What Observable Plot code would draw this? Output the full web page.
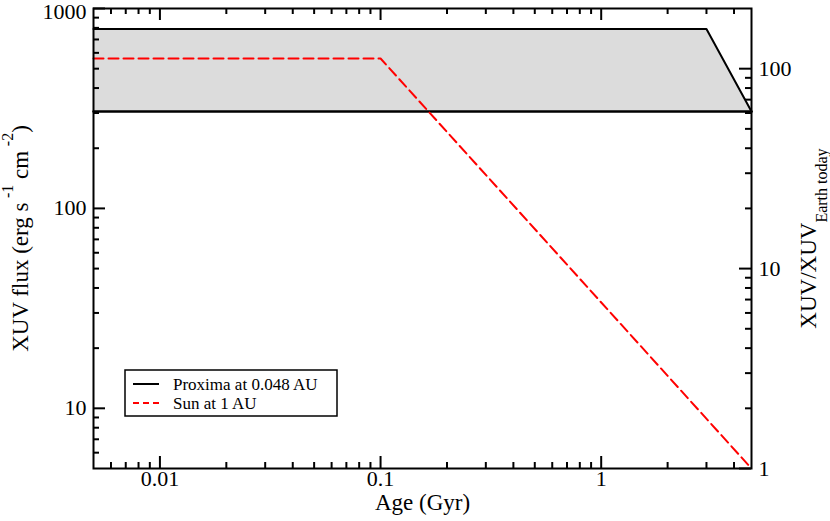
<!DOCTYPE html>
<html><head><meta charset="utf-8">
<script src="https://cdn.jsdelivr.net/npm/d3@7"></script>
<script src="https://cdn.jsdelivr.net/npm/@observablehq/plot@0.6"></script>
<style>html,body{margin:0;padding:0;background:#fff;} svg{display:block;}</style>
</head><body><div id="chart"></div>
<script>
// ---- data ----
const proximaAge = [0.005, 3, 4.8];
const proximaUpper = [790, 790, 305];
const proximaLower = [305, 305, 305];
const sunAge = [0.005, 0.1, 4.8];
const sunFlux = [562, 562, 5];
const seriesNames = ["Proxima at 0.048 AU", "Sun at 1 AU"];
const seriesColors = ["#000000", "#ff0000"];

const xMajorTicks = [0.01, 0.1, 1];
const xTickLabels = ["0.01", "0.1", "1"];
const xMinorTicks = [0.006, 0.007, 0.008, 0.009, 0.02, 0.03, 0.04, 0.05, 0.06, 0.07, 0.08, 0.09, 0.2, 0.3, 0.4, 0.5, 0.6, 0.7, 0.8, 0.9, 2, 3, 4];
const yMajorTicks = [10, 100, 1000];
const yTickLabels = ["10", "100", "1000"];
const yMinorTicks = [6, 7, 8, 9, 20, 30, 40, 50, 60, 70, 80, 90, 200, 300, 400, 500, 600, 700, 800, 900];
const rMajorTicks = [1, 10, 100];
const rTickLabels = ["1", "10", "100"];
const rMinorTicks = [2, 3, 4, 5, 6, 7, 8, 9, 20, 30, 40, 50, 60, 70, 80, 90];
const earthTodayFlux = 5; // left-axis flux equal to 1 on the right axis

const xTitle = "Age (Gyr)";
const yTitle = "XUV flux (erg s\u2009^{-1} cm\u2009^{-2})";
const rTitle = "XUV/XUV_{Earth today}";

// ---- layout ----
const W = 830, H = 521, mL = 93, mR = 79, mT = 8, mB = 53;
const innerW = W - mL - mR, innerH = H - mT - mB;
const font = "Liberation Serif";
const MAJ = 12, MIN = 6, TW = 2;

const proxima = proximaAge.map((a, i) => ({age: a, upper: proximaUpper[i], lower: proximaLower[i]}));
const sun = sunAge.map((a, i) => ({age: a, flux: sunFlux[i]}));
const yTop = yMajorTicks[yMajorTicks.length - 1];

const plot = Plot.plot({
  width: W, height: H,
  marginLeft: mL, marginRight: mR, marginTop: mT, marginBottom: mB,
  x: {type: "log", domain: [0.005, 4.8], axis: null},
  y: {type: "log", domain: [5, 1000], axis: null},
  style: {fontFamily: font, background: "#fff", color: "#000", overflow: "visible"},
  marks: [
    Plot.areaY(proxima, {x: "age", y1: "lower", y2: "upper", fill: "#dcdcdc"}),
    Plot.line(proxima, {x: "age", y: "upper", stroke: seriesColors[0], strokeWidth: 2}),
    Plot.line(proxima, {x: "age", y: "lower", stroke: seriesColors[0], strokeWidth: 2.5}),
    Plot.line(sun, {x: "age", y: "flux", stroke: seriesColors[1], strokeWidth: 2, strokeDasharray: "10,5"}),
    // bottom + top ticks (inward)
    Plot.tickX(xMajorTicks, {x: d => d, insetTop: innerH - MAJ, strokeWidth: TW}),
    Plot.tickX(xMinorTicks, {x: d => d, insetTop: innerH - MIN, strokeWidth: TW}),
    Plot.tickX(xMajorTicks, {x: d => d, insetBottom: innerH - MAJ, strokeWidth: TW}),
    Plot.tickX(xMinorTicks, {x: d => d, insetBottom: innerH - MIN, strokeWidth: TW}),
    // left ticks
    Plot.tickY(yMajorTicks, {y: d => d, insetRight: innerW - MAJ, strokeWidth: TW}),
    Plot.tickY(yMinorTicks, {y: d => d, insetRight: innerW - MIN, strokeWidth: TW}),
    // right ticks (right axis = flux / earthTodayFlux)
    Plot.tickY(rMajorTicks, {y: d => d * earthTodayFlux, insetLeft: innerW - MAJ, strokeWidth: TW}),
    Plot.tickY(rMinorTicks, {y: d => d * earthTodayFlux, insetLeft: innerW - MIN, strokeWidth: TW}),
    Plot.frame({stroke: "#000", strokeWidth: 2}),
    // tick labels
    Plot.text(xMajorTicks, {x: d => d, text: (d, i) => xTickLabels[i], frameAnchor: "bottom", dy: 17, fontSize: 22, fill: "#000"}),
    Plot.text(yMajorTicks.filter(d => d !== yTop), {y: d => d, text: (d, i) => yTickLabels[i], frameAnchor: "left", dx: -7, textAnchor: "end", fontSize: 22, fill: "#000"}),
    Plot.text([yTop], {y: d => d, text: () => yTickLabels[yTickLabels.length - 1], frameAnchor: "left", dx: -7, dy: 3, textAnchor: "end", fontSize: 22, fill: "#000"}),
    Plot.text(rMajorTicks, {y: d => d * earthTodayFlux, text: (d, i) => rTickLabels[i], frameAnchor: "right", dx: 7, textAnchor: "start", fontSize: 22, fill: "#000"}),
    // titles
    Plot.text([xTitle], {text: d => d, frameAnchor: "bottom", dy: 41, textAnchor: "middle", fontSize: 23, fill: "#000"}),
    Plot.text([yTitle], {text: d => d, frameAnchor: "left", dx: -73, rotate: -90, textAnchor: "middle", fontSize: 23, fill: "#000"}),
    Plot.text([rTitle], {text: d => d, frameAnchor: "right", dx: 57, rotate: -90, textAnchor: "middle", fontSize: 23, fill: "#000"})
  ]
});
document.getElementById("chart").appendChild(plot);

// ---- rich text (superscripts / subscripts) ----
function richify(el) {
  const s = el.textContent;
  if (!/[\^_]\{/.test(s)) return;
  el.textContent = "";
  const re = /(\^|_)\{([^}]*)\}/g;
  let last = 0, m, pending = 0;
  const add = (txt, opts) => {
    if (!txt) return;
    const t = document.createElementNS("http://www.w3.org/2000/svg", "tspan");
    t.textContent = txt;
    if (opts.dy) t.setAttribute("dy", opts.dy);
    if (opts.size) t.setAttribute("font-size", opts.size);
    el.appendChild(t);
  };
  while ((m = re.exec(s))) {
    add(s.slice(last, m.index), {dy: pending});
    pending = 0;
    const up = m[1] === "^";
    const shift = up ? -15 : 11;
    add(m[2], {dy: shift, size: 16});
    pending = -shift;
    last = re.lastIndex;
  }
  add(s.slice(last), {dy: pending});
}
d3.select(plot).selectAll("text").each(function () { richify(this); });

// ---- legend ----
const svg = d3.select(plot);
const lg = svg.append("g").attr("font-family", font).attr("font-size", 17).attr("fill", "#000").attr("text-anchor", "start");
const lx = mL + 32, ly = 370;
lg.append("rect").attr("x", lx).attr("y", ly).attr("width", 212).attr("height", 46)
  .attr("fill", "#fff").attr("stroke", "#000").attr("stroke-width", 1.5);
seriesNames.forEach((name, i) => {
  const yy = ly + 14 + i * 19;
  lg.append("line").attr("x1", lx + 8).attr("x2", lx + 34).attr("y1", yy).attr("y2", yy)
    .attr("stroke", seriesColors[i]).attr("stroke-width", 2)
    .attr("stroke-dasharray", i === 1 ? "6,4" : null);
  lg.append("text").attr("x", lx + 48).attr("y", yy + 6).attr("text-anchor", "start").text(name);
});
</script>
</body></html>
